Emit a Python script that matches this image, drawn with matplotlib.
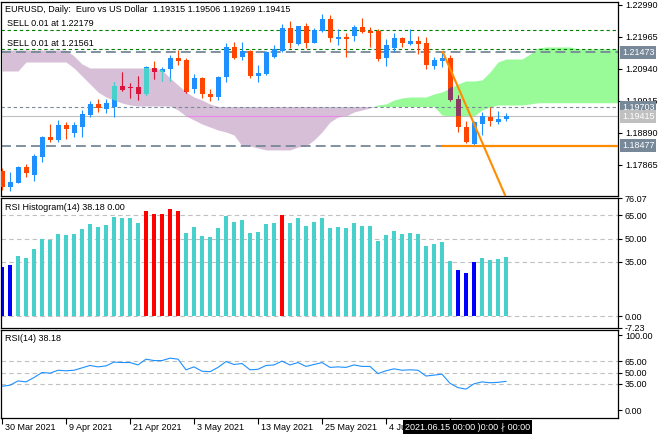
import numpy as np
import matplotlib
matplotlib.use("Agg")
import matplotlib.pyplot as plt
from matplotlib.path import Path
from matplotlib.transforms import blended_transform_factory, ScaledTranslation

plt.rcParams['font.family'] = ['Liberation Sans', 'DejaVu Sans']

# daily EURUSD candles, 30 Mar 2021 .. 25 Jun 2021
opens = [1.17664, 1.17161, 1.17289, 1.17801, 1.17536, 1.18122, 1.18762, 1.18657, 1.19137, 1.18891,
         1.19083, 1.19457, 1.19810, 1.19650, 1.19704, 1.20396, 1.20364, 1.20364, 1.20130, 1.20953,
         1.20844, 1.20921, 1.21293, 1.21219, 1.20290, 1.20652, 1.20130, 1.20024, 1.20665, 1.21645,
         1.21306, 1.21507, 1.20716, 1.20771, 1.21325, 1.21507, 1.22244, 1.21732, 1.22308, 1.21773,
         1.22148, 1.22532, 1.21892, 1.21946, 1.21998, 1.22267, 1.22138, 1.22148, 1.21274, 1.21613,
         1.21933, 1.21732, 1.21828, 1.21773, 1.21037, 1.21187, 1.21274, 1.19970, 1.19083, 1.18529,
         1.19169, 1.19403, 1.19243, 1.19315]
highs = [1.17760, 1.17622, 1.17834, 1.17878, 1.18199, 1.18785, 1.19169, 1.19297, 1.19243, 1.19243,
         1.19618, 1.19906, 1.19970, 1.19970, 1.20524, 1.20844, 1.20473, 1.20707, 1.21037, 1.21187,
         1.21005, 1.21379, 1.21539, 1.21274, 1.20771, 1.20684, 1.20290, 1.20707, 1.21754, 1.21805,
         1.21805, 1.21539, 1.21059, 1.21500, 1.21700, 1.22372, 1.22468, 1.22320, 1.22414, 1.22235,
         1.22693, 1.22661, 1.22202, 1.22094, 1.22340, 1.22555, 1.22286, 1.22202, 1.21882, 1.22074,
         1.21965, 1.22212, 1.21988, 1.21965, 1.21325, 1.21485, 1.21379, 1.20098, 1.19275, 1.19265,
         1.19563, 1.19704, 1.19586, 1.19506]
lows = [1.17055, 1.17023, 1.17279, 1.17481, 1.17343, 1.17962, 1.18602, 1.18583, 1.18679, 1.18743,
        1.18762, 1.19403, 1.19563, 1.19512, 1.19403, 1.20236, 1.19992, 1.19938, 1.20114, 1.20611,
        1.20547, 1.20547, 1.21059, 1.20170, 1.20153, 1.19992, 1.19906, 1.19938, 1.20524, 1.21242,
        1.21219, 1.20652, 1.20524, 1.20739, 1.21274, 1.21485, 1.21613, 1.21700, 1.21613, 1.21754,
        1.22126, 1.21805, 1.21700, 1.21325, 1.21837, 1.22100, 1.21645, 1.21197, 1.21037, 1.21466,
        1.21645, 1.21700, 1.21411, 1.20931, 1.20931, 1.21005, 1.19920, 1.18923, 1.18551, 1.18477,
        1.18817, 1.19105, 1.19169, 1.19269]
closes = [1.17161, 1.17302, 1.17801, 1.17590, 1.18144, 1.18762, 1.18657, 1.19128, 1.19009, 1.19128,
          1.19489, 1.19810, 1.19672, 1.19832, 1.20386, 1.20258, 1.20313, 1.20130, 1.21005, 1.20844,
          1.20931, 1.21293, 1.21197, 1.20185, 1.20633, 1.20120, 1.20044, 1.20665, 1.21645, 1.21274,
          1.21507, 1.20707, 1.20812, 1.21485, 1.21562, 1.22244, 1.21754, 1.22308, 1.21773, 1.22180,
          1.22532, 1.21933, 1.21946, 1.21892, 1.22267, 1.22126, 1.22094, 1.21242, 1.21700, 1.21933,
          1.21754, 1.21828, 1.21732, 1.21059, 1.21219, 1.21293, 1.19938, 1.19083, 1.18602, 1.19224,
          1.19425, 1.19275, 1.19329, 1.19415]

# ichimoku senkou spans (shifted 26 bars ahead, so longer than the candles)
span_a = [1.20867, 1.20867, 1.20867, 1.21155, 1.21155, 1.21155, 1.21155, 1.21155, 1.21155, 1.20963,
          1.20707, 1.20450, 1.20194, 1.20034, 1.19938, 1.19842, 1.19778, 1.19746, 1.19746, 1.19746,
          1.19746, 1.19746, 1.19618, 1.19425, 1.19297, 1.19169, 1.19073, 1.18977, 1.18913, 1.18817,
          1.18465, 1.18465, 1.18401, 1.18338, 1.18338, 1.18338, 1.18338, 1.18433, 1.18465, 1.18657,
          1.18913, 1.19233, 1.19393, 1.19425, 1.19554, 1.19618, 1.19682, 1.19778, 1.19810, 1.19938,
          1.20002, 1.20034, 1.20034, 1.20034, 1.20130, 1.20194, 1.20322, 1.20450, 1.20547, 1.20547,
          1.20579, 1.20835, 1.21155, 1.21251, 1.21251, 1.21251, 1.21411, 1.21604, 1.21636, 1.21636,
          1.21636, 1.21636, 1.21572, 1.21572, 1.21572, 1.21572, 1.21572, 1.21572]
span_b = [1.21539, 1.21539, 1.21539, 1.21539, 1.21539, 1.21539, 1.21539, 1.21539, 1.21539, 1.21347,
          1.21091, 1.20963, 1.20963, 1.20963, 1.20963, 1.20963, 1.20963, 1.20963, 1.20963, 1.20963,
          1.20899, 1.20643, 1.20418, 1.20194, 1.20034, 1.19938, 1.19810, 1.19730, 1.19730, 1.19730,
          1.19730, 1.19730, 1.19730, 1.19730, 1.19730, 1.19730, 1.19730, 1.19730, 1.19730, 1.19730,
          1.19730, 1.19730, 1.19730, 1.19730, 1.19730, 1.19730, 1.19730, 1.19730, 1.19730, 1.19730,
          1.19730, 1.19730, 1.19730, 1.19730, 1.19730, 1.19457, 1.19425, 1.19425, 1.19425, 1.19425,
          1.19618, 1.19714, 1.19778, 1.19778, 1.19778, 1.19778, 1.19810, 1.19851, 1.19851, 1.19851,
          1.19851, 1.19851, 1.19851, 1.19851, 1.19851, 1.19851, 1.19851, 1.19851]

rsi = [31.7, 33.0, 38.8, 37.5, 43.3, 50.0, 49.1, 53.0, 52.3, 53.0,
       56.2, 59.4, 57.5, 58.8, 63.9, 63.3, 63.3, 60.1, 67.8, 65.9,
       65.9, 69.1, 67.8, 53.6, 57.5, 51.7, 51.1, 56.8, 64.6, 60.7,
       62.0, 53.6, 54.3, 59.4, 60.1, 65.2, 60.1, 63.3, 58.1, 60.7,
       63.3, 56.8, 57.5, 56.8, 60.1, 58.1, 58.1, 48.5, 52.3, 54.9,
       53.0, 53.6, 53.0, 45.3, 46.5, 47.8, 35.6, 29.8, 27.9, 34.9,
       37.5, 36.3, 36.9, 38.18]

date_ticks = [0, 8, 16, 24, 32, 40, 48, 56]
date_labels = ["30 Mar 2021", "9 Apr 2021", "21 Apr 2021", "3 May 2021", "13 May 2021",
               "25 May 2021", "4 Jun 2021"]
price_ticks = [1.22990, 1.21965, 1.20940, 1.19915, 1.18890, 1.17865]

sell_levels = [1.22179, 1.21561]
bid = 1.19415
level_upper = 1.21473
level_mid = 1.19703
level_low = 1.18477
trend_x = [55.1, 63.0]
trend_y = [1.21473, 1.16820]
hline_start = 55.1

hist_ticks = [76.07, 65.0, 50.0, 35.0, 0.0, -7.23]
rsi_ticks = [100.0, 65.0, 50.0, 35.0, 0.0]

opens, highs, lows, closes = map(np.array, (opens, highs, lows, closes))
span_a, span_b, rsi = np.array(span_a), np.array(span_b), np.array(rsi)

W, H = 671, 438


def rect(x0, y0, x1, y1):
    return [x0 / W, 1 - y1 / H, (x1 - x0) / W, (y1 - y0) / H]


def draw_candles(ax, up_col, dn_col, clip=None, z=3):
    x = np.arange(len(opens))
    col = np.where(closes >= opens, up_col, dn_col)
    lo = np.minimum(opens, closes)
    hgt = np.maximum(np.abs(closes - opens), 0.00035)
    wk = ax.vlines(x, lows, highs, colors=col, lw=0.8, zorder=z)
    bars = ax.bar(x, hgt, bottom=lo, width=0.625, color=col, lw=0, zorder=z)
    if clip is not None:
        wk.set_clip_path(clip, ax.transData)
        for b in bars:
            b.set_clip_path(clip, ax.transData)


def style_axis(ax, ticks, fmt):
    ax.set_xlim(-0.125, 77)
    ax.yaxis.tick_right()
    ax.set_yticks(ticks)
    ax.set_yticklabels([fmt % t for t in ticks])
    ax.tick_params(axis='y', direction='out', length=3, width=0.8, pad=2, labelsize=6.5)
    ax.tick_params(axis='x', bottom=False, labelbottom=False)
    for s in ax.spines.values():
        s.set_linewidth(0.9)
        s.set_color('black')


fig = plt.figure(figsize=(6.71, 4.38), dpi=100)
ax = fig.add_axes(rect(1, 2, 618, 196))
axh = fig.add_axes(rect(1, 198, 618, 327.5))
axr = fig.add_axes(rect(1, 330, 618, 417.5))

# ---- main price panel
cx = np.arange(len(span_a))
pink = ax.fill_between(cx, span_a, span_b, where=span_b >= span_a, interpolate=True,
                       color='#D8BFD8', lw=0, zorder=1)
green = ax.fill_between(cx, span_a, span_b, where=span_a >= span_b, interpolate=True,
                        color='#98FB98', lw=0, zorder=1)
pink_path = Path.make_compound_path(*pink.get_paths())
green_path = Path.make_compound_path(*green.get_paths())

for lv in sell_levels:
    ax.axhline(lv, color='#008000', lw=0.8, ls=(0, (3, 2.5)), zorder=2)
ax.axhline(level_upper, color='#778899', lw=1.3, ls=(0, (5.5, 2.8)), zorder=2)
ax.axhline(level_mid, color='#778899', lw=0.8, ls=(0, (3, 2.5)), zorder=2)
ax.plot([-0.125, hline_start], [level_low, level_low], color='#778899', lw=1.3,
        ls=(0, (5.5, 2.8)), zorder=2)
ax.axhline(bid, color='#C0C0C0', lw=0.8, zorder=2)
bid_in = ax.axhline(bid, color='#EE82EE', lw=0.8, zorder=2.1)
bid_in.set_clip_path(pink_path, ax.transData)

draw_candles(ax, '#1E90FF', '#FF4500')
draw_candles(ax, '#48D1CC', '#DC143C', clip=pink_path, z=3.1)
draw_candles(ax, '#1E90FF', '#8B3A62', clip=green_path, z=3.1)

ax.plot([hline_start, 77], [level_low, level_low], color='#FF8C00', lw=1.6, zorder=4)
ax.plot(trend_x, trend_y, color='#FF8C00', lw=1.5, zorder=4)

ax.set_ylim(1.16863, 1.23077)
style_axis(ax, price_ticks, '%.5f')

tr = blended_transform_factory(ax.transAxes, ax.transData)
off = ScaledTranslation(4 / 100, 0, fig.dpi_scale_trans)
for lv, fc in [(level_upper, '#778899'), (level_mid, '#778899'), (bid, '#C0C0C0'),
               (level_low, '#778899')]:
    ax.text(1.0, lv, '%.5f' % lv, transform=tr + off, fontsize=6.5, color='white',
            va='center', ha='left', clip_on=False, zorder=6,
            bbox=dict(boxstyle='square,pad=0.22', fc=fc, ec='none'))

ax.text(0.007, 0.962, 'EURUSD, Daily:  Euro vs US Dollar  1.19315 1.19506 1.19269 1.19415',
        transform=ax.transAxes, fontsize=6.5, va='center', ha='left', zorder=6)
for lv in sell_levels:
    ax.text(0.009, lv + 0.0005, 'SELL 0.01 at %.5f' % lv, transform=tr, fontsize=6.5,
            va='bottom', ha='left', zorder=6)

# ---- rsi histogram panel
idx = np.arange(len(rsi))
hcol = np.where(rsi > 65, '#FF0000', np.where(rsi < 35, '#0000FF', '#48D1CC'))
for g in [65, 50, 35, 0]:
    axh.axhline(g, color='#C0C0C0', lw=0.8, ls=(0, (4, 3)), zorder=0)
axh.bar(idx, rsi, width=0.5, color=hcol, lw=0, zorder=2)
axh.set_ylim(-7.23, 76.07)
style_axis(axh, hist_ticks, '%.2f')
axh.text(0.007, 0.93, 'RSI Histogram(14) 38.18 0.00', transform=axh.transAxes,
         fontsize=6.5, va='center', ha='left')

# ---- rsi line panel
for g in [65, 50, 35]:
    axr.axhline(g, color='#C0C0C0', lw=0.8, ls=(0, (4, 3)), zorder=0)
axr.plot(idx, rsi, color='#1E90FF', lw=0.8, zorder=2)
axr.set_ylim(-10, 106.67)
style_axis(axr, rsi_ticks, '%.2f')
axr.text(0.007, 0.9, 'RSI(14) 38.18', transform=axr.transAxes, fontsize=6.5,
         va='center', ha='left')

axr.set_xticks(date_ticks)
axr.tick_params(axis='x', bottom=True, labelbottom=False, direction='out', length=4, width=0.8)
trx = blended_transform_factory(axr.transData, axr.transAxes)
offx = ScaledTranslation(3 / 100, 0, fig.dpi_scale_trans)
for t, lab in zip(date_ticks, date_labels):
    axr.text(t, -0.11, lab, transform=trx + offx, fontsize=6.5, va='center', ha='left',
             clip_on=False)

fig.text(405 / W, 1 - 427 / H, '2021.06.15 00:00 )0:00 \u2224 00:00', fontsize=6.5,
         color='white', va='center', ha='left', zorder=10,
         bbox=dict(boxstyle='square,pad=0.25', fc='black', ec='none'))

fig.savefig('out.png', dpi=100, facecolor='white')
